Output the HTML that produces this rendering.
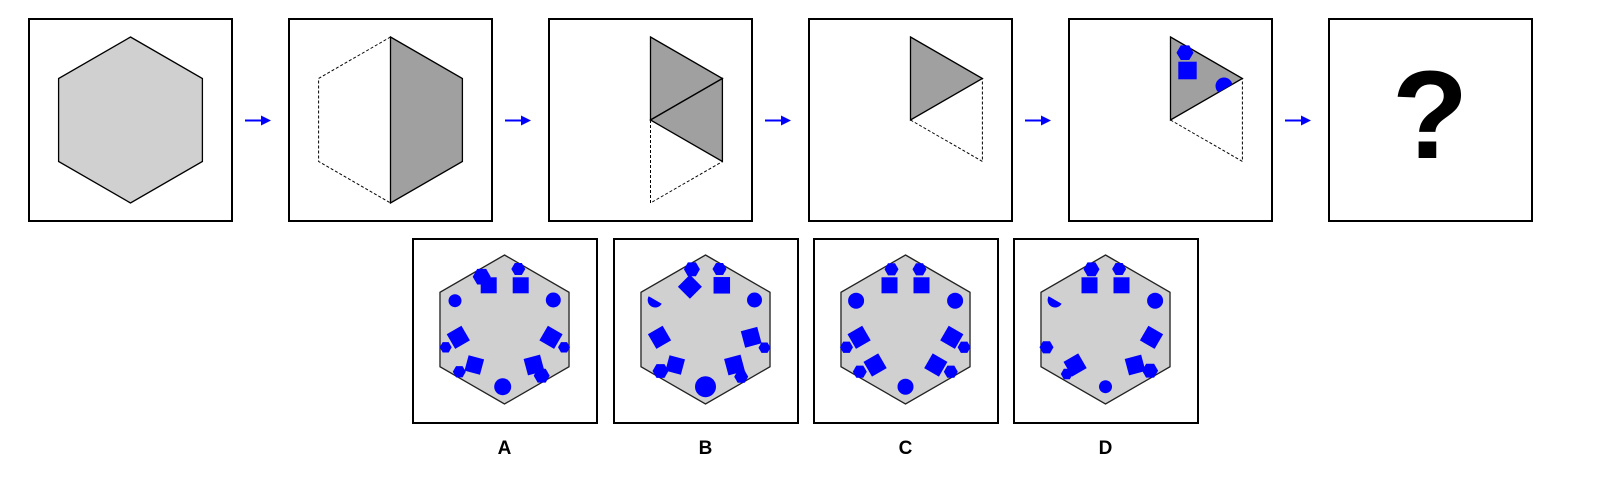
<!DOCTYPE html>
<html><head><meta charset="utf-8"><style>
html,body{margin:0;padding:0;background:#fff;width:1610px;height:490px;overflow:hidden}
svg{display:block}
</style></head><body>
<svg id="s" width="1610" height="490" viewBox="0 0 1610 490" xmlns="http://www.w3.org/2000/svg">
<defs>
<clipPath id="tri5"><polygon points="1170.5,37 1242.4,78.5 1170.5,120"/></clipPath>
</defs>
<g id="top"></g>
<g id="opts"></g>
</svg>
<script>
const NS='http://www.w3.org/2000/svg';
const svg=document.getElementById('s');
const topG=document.getElementById('top');
const optG=document.getElementById('opts');
function mk(tag,attrs,parent){const e=document.createElementNS(NS,tag);for(const k in attrs)e.setAttribute(k,attrs[k]);(parent||svg).appendChild(e);return e;}
const BLUE='#0000ff';
const R=83,H=71.9;
function hexPts(cx,cy){return [[cx,cy-R],[cx+H,cy-R/2],[cx+H,cy+R/2],[cx,cy+R],[cx-H,cy+R/2],[cx-H,cy-R/2]];}
function ps(a){return a.map(p=>p.join(',')).join(' ');}
for(let i=0;i<6;i++){
  const x=29+260*i;
  const b=mk('rect',{x:x,y:19,width:203,height:202,fill:'#fff',stroke:'#000','stroke-width':2},topG);
  
  
  if(i<5){
    const a=mk('g',{},topG);
    
    
    const ax=x+216;
    mk('line',{x1:ax,y1:120.5,x2:ax+18,y2:120.5,stroke:BLUE,'stroke-width':2},a);
    mk('polygon',{points:`${ax+16},115.5 ${ax+26},120.5 ${ax+16},125.5`,fill:BLUE},a);
  }
}
const cy=120;
{const cx=29+101.5;const p=mk('polygon',{points:ps(hexPts(cx,cy)),fill:'#d0d0d0',stroke:'#000','stroke-width':1.3},topG);
}
{const cx=289+101.5;const h=hexPts(cx,cy);
const l=mk('polyline',{points:ps([h[0],h[5],h[4],h[3]]),fill:'none',stroke:'#000','stroke-width':1,'stroke-dasharray':'3,2'},topG);

const r=mk('polygon',{points:ps([h[0],h[1],h[2],h[3]]),fill:'#a0a0a0',stroke:'#000','stroke-width':1.3},topG);
}
{const cx=549+101.5;const h=hexPts(cx,cy);const c=[cx,cy];
const d=mk('polyline',{points:ps([c,h[3],h[2]]),fill:'none',stroke:'#000','stroke-width':1,'stroke-dasharray':'3,2'},topG);

const t1=mk('polygon',{points:ps([h[0],h[1],c]),fill:'#a0a0a0',stroke:'#000','stroke-width':1.3},topG);

const t2=mk('polygon',{points:ps([c,h[1],h[2]]),fill:'#a0a0a0',stroke:'#000','stroke-width':1.3},topG);
}
for(const k of [3,4]){
  const cx=29+260*k+101.5;const h=hexPts(cx,cy);const c=[cx,cy];
  const d=mk('polyline',{points:ps([c,h[2],h[1]]),fill:'none',stroke:'#000','stroke-width':1,'stroke-dasharray':'3,2'},topG);
  
  const t=mk('polygon',{points:ps([h[0],h[1],c]),fill:'#a0a0a0',stroke:'#000','stroke-width':1.3},topG);
  
}
function smallHex(cx,cy,r,parent){return mk('polygon',{points:ps([0,1,2,3,4,5].map(i=>{const a=Math.PI/3*i;return [cx+r*Math.cos(a),cy+r*Math.sin(a)];})),fill:BLUE},parent);}
function sq(cx,cy,s,rot,parent){return mk('rect',{x:cx-s/2,y:cy-s/2,width:s,height:s,fill:BLUE,transform:`rotate(${rot} ${cx} ${cy})`},parent);}
function circ(cx,cy,r,parent){return mk('circle',{cx:cx,cy:cy,r:r,fill:BLUE},parent);}
function semi(cx,cy,r,parent){return mk('path',{d:`M${cx-r},${cy} A${r},${r} 0 0 0 ${cx+r},${cy} Z`,fill:BLUE,transform:`rotate(30 ${cx} ${cy})`},parent);}
{const g=mk('g',{},topG);
smallHex(1185,52.7,8.5,g);mk('rect',{x:1178.3,y:61.7,width:18.4,height:17.6,fill:BLUE},g);
const cg=mk('g',{'clip-path':'url(#tri5)'},g);circ(1224,86,8.5,cg);}
{const q=mk('text',{x:1430,y:158,'text-anchor':'middle','font-family':'Liberation Sans, sans-serif','font-weight':'bold','font-size':125,fill:'#000'},topG);
q.textContent='?';}
const optLeft=[413,614,814,1014];
const labels=['A','B','C','D'];
const optR=74.5;
const shapes=[
 [['h',-22.8,-52.8,9],['s',-15.8,-44.2,16,0],['h',13.8,-60.5,7],['s',16.2,-44.2,16,0],['c',-49.5,-28.8,6.5],['c',48.8,-29.5,7.5],
  ['s',-46.2,7.8,17,-30],['h',-58.8,17.8,6],['s',46.5,7.8,17,30],['h',59.5,17.8,6],['s',-30.2,35.5,16,15],['h',-45.2,42.2,6.5],
  ['c',-1.8,57.2,8.5],['s',29.5,35.5,17,-15],['h',37.2,46.2,8]],
 [['h',-13.6,-60.2,8],['s',-15.6,-42.8,17,45],['h',14,-60.5,7],['s',16.3,-44.2,16.5,0],['semi',-50.3,-29.5,7.5],['c',49,-29.5,7.5],
  ['s',-46,7.8,17,-30],['s',45.7,7.8,17,-15],['h',59,18.2,6],['h',-45,41.5,8],['s',-30.3,35.5,16,15],['c',0,57.2,10.5],
  ['s',29,35.5,17,-15],['h',35.7,47.2,7]],
 [['h',-14,-60.2,7],['s',-16,-44.2,16,0],['h',14,-60.2,7],['s',16,-44.2,16,0],['c',-49.4,-28.8,8],['c',49.6,-28.8,8],
  ['s',-46.4,7.8,17,-30],['h',-59,17.8,6.5],['s',46.3,7.8,17,30],['h',58.6,17.8,6.5],['h',-45.7,42.2,7],['s',-30.4,35.5,17,-30],
  ['c',0,57.2,8],['s',30.3,35.5,17,30],['h',45.3,42.2,7]],
 [['h',-14,-60.2,8],['s',-16,-44.2,16,0],['h',13.6,-60.5,7],['s',16,-44.2,16,0],['semi',-50.4,-29.5,7.5],['c',49.6,-28.8,8],
  ['h',-59,17.8,7],['s',46,7.8,17,30],['s',-30.4,35.5,17,-30],['h',-38.7,44.5,6],['c',0,57.2,6.5],['s',29.6,35.5,17,-15],['h',44.6,41.2,8]]
];
for(let i=0;i<4;i++){
  const x=optLeft[i];
  const g=mk('g',{},optG);
  
  
  mk('rect',{x:x,y:239,width:184,height:184,fill:'#fff',stroke:'#000','stroke-width':2},g);
  const cx=x+91.5,cyo=329.5;
  const hp=[0,1,2,3,4,5].map(k=>{const a=-Math.PI/2+Math.PI/3*k;return [cx+optR*Math.cos(a),cyo+optR*Math.sin(a)];});
  mk('polygon',{points:ps(hp),fill:'#d0d0d0',stroke:'#222','stroke-width':1.3},g);
  const mg=mk('g',{},g);
  
  
  for(const sh of shapes[i]){
    const X=cx+sh[1],Y=cyo+sh[2];
    if(sh[0]==='h')smallHex(X,Y,sh[3],mg);
    else if(sh[0]==='s')sq(X,Y,sh[3],sh[4],mg);
    else if(sh[0]==='c')circ(X,Y,sh[3],mg);
    else semi(X,Y,sh[3],mg);
  }
  const t=mk('text',{x:cx,y:454,'text-anchor':'middle','font-family':'Liberation Sans, sans-serif','font-weight':'bold','font-size':19,fill:'#000'},optG);
  t.textContent=labels[i];
  
  
}
</script>
</body></html>
